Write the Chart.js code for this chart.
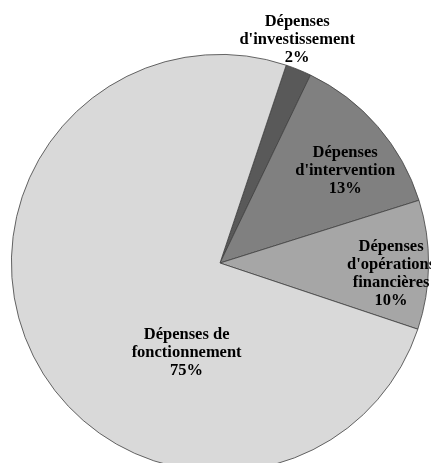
<!DOCTYPE html>
<html>
<head>
<meta charset="utf-8">
<script src="https://cdn.jsdelivr.net/npm/chart.js@4"></script>
<style>
  html, body { margin: 0; padding: 0; background: #fff; overflow: hidden; }
  #wrap { width: 431px; height: 482px; position: relative; }
</style>
</head>
<body>
<div id="wrap"><canvas id="budgetChart"></canvas></div>
<script>
// Répartition des dépenses (en %)
const categories = [
    ['Dépenses', "d'investissement"],
    ['Dépenses', "d'intervention"],
    ['Dépenses', "d'opérations", 'financières'],
    ['Dépenses de', 'fonctionnement']
];
const shares = [2, 13, 10, 75];
const sliceColors = ['#595959', '#808080', '#a6a6a6', '#d9d9d9'];

// where each label block sits, as a fraction of the radius from the centre
const labelSpots = [
    [0.37, -1.07],
    [0.60, -0.44],
    [0.82, 0.05],
    [-0.16, 0.43]
];

const sliceLabels = {
    id: 'sliceLabels',
    afterDatasetsDraw(chart) {
        const ctx = chart.ctx;
        const arcs = chart.getDatasetMeta(0).data;
        ctx.save();
        ctx.font = 'bold 16.5px "Liberation Serif", serif';
        ctx.fillStyle = '#000';
        ctx.textAlign = 'center';
        ctx.textBaseline = 'middle';
        arcs.forEach((arc, i) => {
            const lines = categories[i].concat(shares[i] + '%');
            const cx = arc.x + labelSpots[i][0] * arc.outerRadius;
            const cy = arc.y + labelSpots[i][1] * arc.outerRadius;
            const lh = 18;
            const top = cy - (lines.length - 1) * lh / 2;
            lines.forEach((t, k) => ctx.fillText(t, cx, top + k * lh));
        });
        ctx.restore();
    }
};

new Chart(document.getElementById('budgetChart'), {
    type: 'pie',
    data: {
        labels: categories.map(c => c.join(' ')),
        datasets: [{
            data: shares,
            backgroundColor: sliceColors,
            borderColor: '#404040',
            borderWidth: 0.8
        }]
    },
    options: {
        responsive: true,
        maintainAspectRatio: false,
        animation: false,
        rotation: 18.5,
        layout: { padding: { left: 11, right: 2, top: 54, bottom: 10 } },
        plugins: {
            legend: { display: false },
            tooltip: { enabled: false }
        }
    },
    plugins: [sliceLabels]
});
</script>
</body>
</html>
